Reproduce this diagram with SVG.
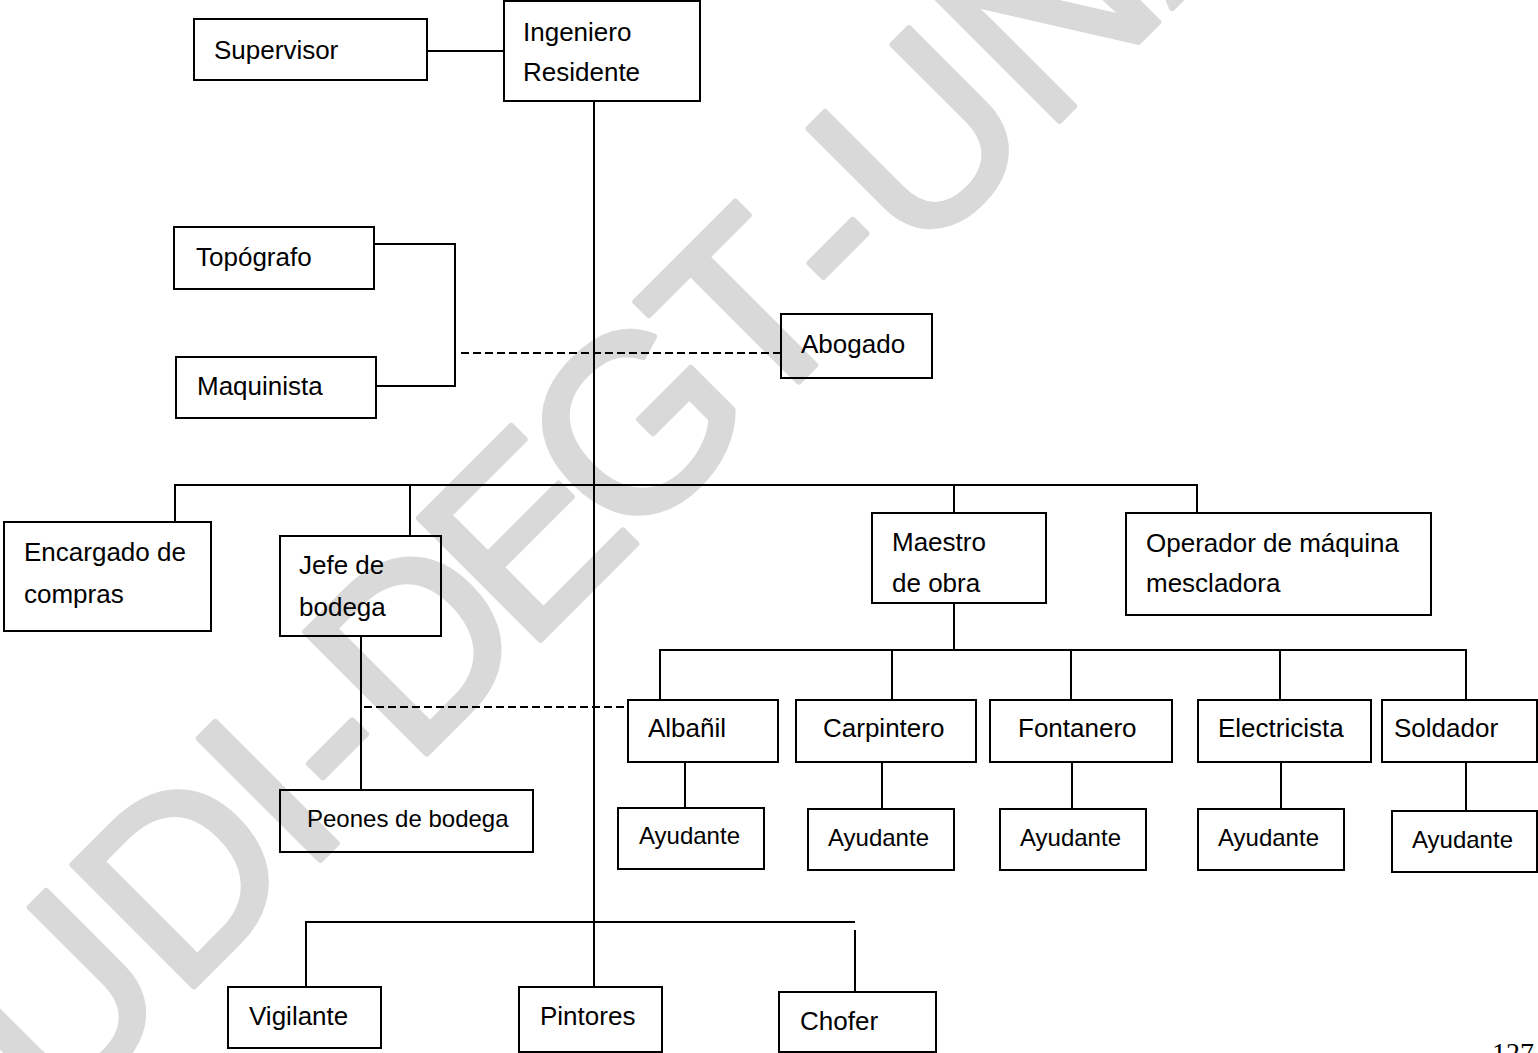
<svg xmlns="http://www.w3.org/2000/svg" width="1538" height="1053" viewBox="0 0 1538 1053">
<style>
.bx{fill:none;stroke:#000;stroke-width:2}
.t{font-family:"Liberation Sans",Arial,sans-serif;font-size:26px;fill:#000}
.s{font-size:24px}
.ln{fill:none;stroke:#000;stroke-width:2}
.dl{fill:none;stroke:#000;stroke-width:2;stroke-dasharray:8 4}
.wm{font-family:"Liberation Sans",Arial,sans-serif;font-size:250px;fill:#d9d9d9;stroke:#d9d9d9;stroke-width:6;stroke-linejoin:round}
</style>
<rect width="1538" height="1053" fill="#fff"/>
<text class="wm" transform="translate(0,1053) rotate(-45)" y="90" x="-14 164 340 412 493 654 797 975 1120 1206 1388 1567 1731">UDI-DEGT-UNAN</text>
<g id="connectors">
<path class="ln" d="M427,51H504"/>
<path class="ln" d="M594,101V987"/>
<path class="ln" d="M374,244H455V386H376"/>
<path class="dl" d="M461,353H781"/>
<path class="ln" d="M175,522V485H1197V513"/>
<path class="ln" d="M410,485V536"/>
<path class="ln" d="M954,485V513"/>
<path class="ln" d="M954,603V650"/>
<path class="ln" d="M660,700V650H1466V700"/>
<path class="ln" d="M892,650V700M1071,650V700M1280,650V700"/>
<path class="ln" d="M685,762V808M882,762V809M1072,762V809M1281,762V809M1466,762V811"/>
<path class="ln" d="M361,636V790"/>
<path class="dl" d="M364,707H628"/>
<path class="ln" d="M306,987V922H855"/>
<path class="ln" d="M855,930V992"/>
</g>
<g id="supervisor"><rect class="bx" x="194" y="19" width="233" height="61"/><text class="t" x="214" y="59">Supervisor</text></g>
<g id="ingeniero"><rect class="bx" x="504" y="1" width="196" height="100"/><text class="t" x="523" y="41">Ingeniero</text><text class="t" x="523" y="81">Residente</text></g>
<g id="topografo"><rect class="bx" x="174" y="227" width="200" height="62"/><text class="t" x="196" y="266">Topógrafo</text></g>
<g id="maquinista"><rect class="bx" x="176" y="357" width="200" height="61"/><text class="t" x="197" y="395">Maquinista</text></g>
<g id="abogado"><rect class="bx" x="781" y="314" width="151" height="64"/><text class="t" x="801" y="353">Abogado</text></g>
<g id="encargado"><rect class="bx" x="4" y="522" width="207" height="109"/><text class="t" x="24" y="561">Encargado de</text><text class="t" x="24" y="603">compras</text></g>
<g id="jefe"><rect class="bx" x="280" y="536" width="161" height="100"/><text class="t" x="299" y="574">Jefe de</text><text class="t" x="299" y="616">bodega</text></g>
<g id="maestro"><rect class="bx" x="872" y="513" width="174" height="90"/><text class="t" x="892" y="551">Maestro</text><text class="t" x="892" y="592">de obra</text></g>
<g id="operador"><rect class="bx" x="1126" y="513" width="305" height="102"/><text class="t" x="1146" y="552">Operador de máquina</text><text class="t" x="1146" y="592">mescladora</text></g>
<g id="albanil"><rect class="bx" x="628" y="700" width="150" height="62"/><text class="t" x="648" y="737">Albañil</text></g>
<g id="carpintero"><rect class="bx" x="796" y="700" width="180" height="62"/><text class="t" x="823" y="737">Carpintero</text></g>
<g id="fontanero"><rect class="bx" x="990" y="700" width="182" height="62"/><text class="t" x="1018" y="737">Fontanero</text></g>
<g id="electricista"><rect class="bx" x="1198" y="700" width="173" height="62"/><text class="t" x="1218" y="737">Electricista</text></g>
<g id="soldador"><rect class="bx" x="1382" y="700" width="155" height="62"/><text class="t" x="1394" y="737">Soldador</text></g>
<g id="peones"><rect class="bx" x="280" y="790" width="253" height="62"/><text class="t s" x="307" y="827">Peones de bodega</text></g>
<g id="ayudante1"><rect class="bx" x="618" y="808" width="146" height="61"/><text class="t s" x="639" y="844">Ayudante</text></g>
<g id="ayudante2"><rect class="bx" x="808" y="809" width="146" height="61"/><text class="t s" x="828" y="846">Ayudante</text></g>
<g id="ayudante3"><rect class="bx" x="1000" y="809" width="146" height="61"/><text class="t s" x="1020" y="846">Ayudante</text></g>
<g id="ayudante4"><rect class="bx" x="1198" y="809" width="146" height="61"/><text class="t s" x="1218" y="846">Ayudante</text></g>
<g id="ayudante5"><rect class="bx" x="1392" y="811" width="145" height="61"/><text class="t s" x="1412" y="848">Ayudante</text></g>
<g id="vigilante"><rect class="bx" x="228" y="987" width="153" height="61"/><text class="t" x="249" y="1025">Vigilante</text></g>
<g id="pintores"><rect class="bx" x="519" y="987" width="143" height="65"/><text class="t" x="540" y="1025">Pintores</text></g>
<g id="chofer"><rect class="bx" x="779" y="992" width="157" height="60"/><text class="t" x="800" y="1030">Chofer</text></g>
<text x="1492" y="1062" font-family="Liberation Serif,Times New Roman,serif" font-size="28" fill="#000">127</text>
</svg>
